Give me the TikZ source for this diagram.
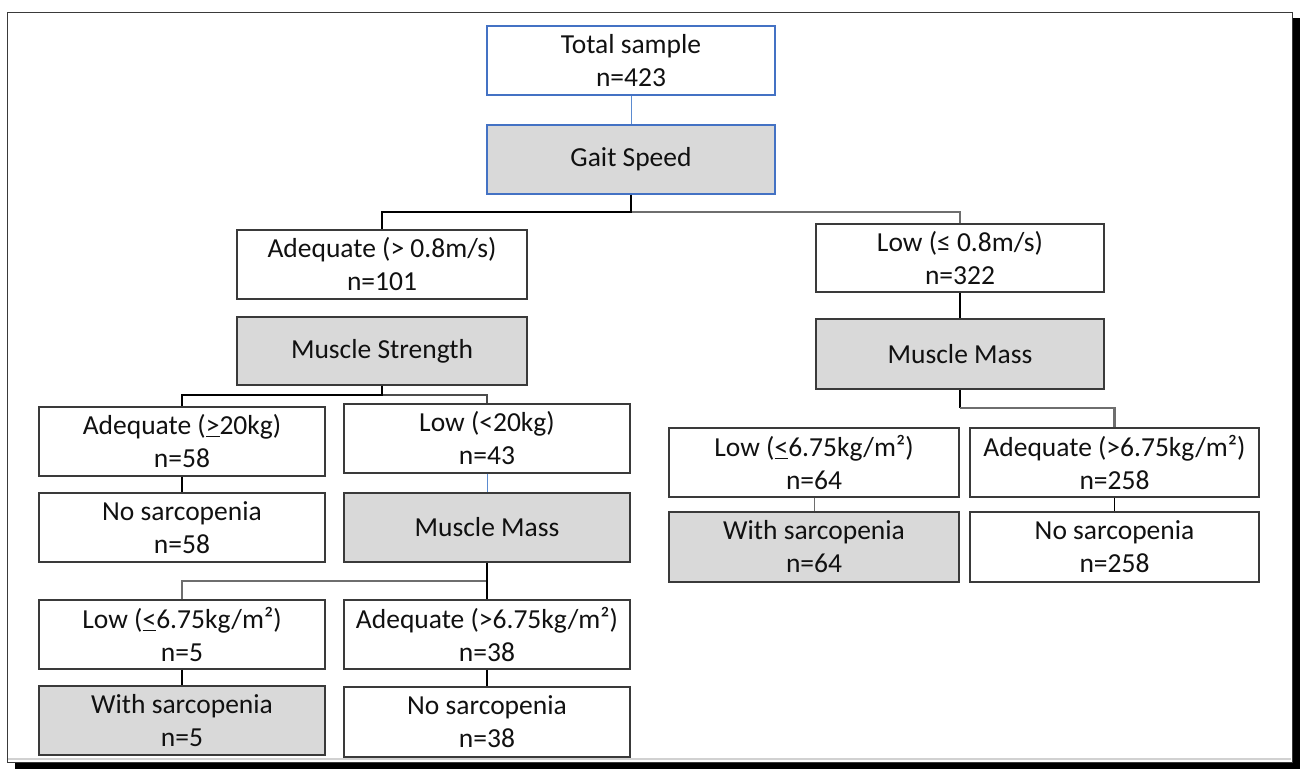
\documentclass[tikz,border=0pt]{standalone}
\usepackage{fontspec}
\setmainfont{Carlito}
\definecolor{boxline}{HTML}{3A3A3A}
\definecolor{boxfill}{HTML}{D9D9D9}
\definecolor{blueline}{HTML}{4472C4}
\definecolor{bluecon}{HTML}{5B8BD0}
\definecolor{graycon}{HTML}{6E6E6E}
\definecolor{txt}{HTML}{111111}
\newcommand{\ule}[1]{\underline{#1}}
\begin{document}
\begin{tikzpicture}[x=1pt,y=-1pt,
  box/.style={draw=boxline, line width=1.4pt, fill=white, minimum width=288pt, minimum height=69pt,
    inner sep=0pt, align=center, text=txt, font=\fontsize{27.5}{33}\selectfont},
  gbox/.style={box, fill=boxfill},
  con/.style={draw=black, line width=1.3pt},
  gcon/.style={draw=graycon, line width=2.6pt},
  bcon/.style={draw=bluecon, line width=1pt}]
\useasboundingbox (0,0) rectangle (1305,769);
% frame with shadow
\fill[black] (15,18) rectangle (1300,769);
\filldraw[fill=white, draw=boxline, line width=1pt] (7,12) rectangle (1292,762);
\draw[black!18, line width=2.5pt] (8,759) -- (1291,759);

% nodes
\node[box, draw=blueline] (tot) at (631,60.5) {Total sample\\n=423};
\node[gbox, draw=blueline] (gait) at (631,159.5) {Gait Speed};
\node[box, minimum width=290pt] (adq1) at (382,264.5) {Adequate (> 0.8m/s)\\n=101};
\node[box, minimum height=68pt] (low1) at (960,258) {Low (≤ 0.8m/s)\\n=322};
\node[gbox, minimum width=290pt, minimum height=68pt] (ms) at (382,351) {Muscle Strength};
\node[gbox, minimum height=70pt] (mm1) at (960,354) {Muscle Mass};

\node[box, minimum width=286pt] (adq2) at (182,441.5) {Adequate (\ule{>}20kg)\\n=58};
\node[box, minimum width=286pt] (low2) at (487,438.5) {Low (<20kg)\\n=43};
\node[box, minimum width=286pt] (nos1) at (182,527.5) {No sarcopenia\\n=58};
\node[gbox, minimum width=286pt] (mm2) at (487,527.5) {Muscle Mass};
\node[box, minimum width=286pt] (low3) at (182,634.5) {Low (\ule{<}6.75kg/m²)\\n=5};
\node[box, minimum width=286pt] (adq3) at (487,634.5) {Adequate (>6.75kg/m²)\\n=38};
\node[gbox, minimum width=286pt] (with1) at (182,720.5) {With sarcopenia\\n=5};
\node[box, minimum width=286pt, minimum height=70pt] (nos2) at (487,722) {No sarcopenia\\n=38};

\node[box, minimum width=290pt] (low4) at (814,462.5) {Low (\ule{<}6.75kg/m²)\\n=64};
\node[box, minimum width=289pt] (adq4) at (1114.5,462.5) {Adequate (>6.75kg/m²)\\n=258};
\node[gbox, minimum width=290pt, minimum height=70pt] (with2) at (814,547) {With sarcopenia\\n=64};
\node[box, minimum width=289pt, minimum height=70pt] (nos3) at (1114.5,547) {No sarcopenia\\n=258};

% connectors
\draw[bcon] (tot.south) -- (gait.north);
\coordinate (g1) at (631,212);
\draw[gcon] (g1) -| (low1.north);
\draw[con] (gait.south) -- (g1) -| (adq1.north);
\draw[con] (low1.south) -- (mm1.north);

\coordinate (s1) at (382,395);
\draw[con, draw=black!70] (s1) -| (low2.north);
\draw[con] (ms.south) -- (s1) -| (adq2.north);
\draw[con] (adq2.south) -- (nos1.north);
\draw[bcon] (low2.south) -- (mm2.north);

\coordinate (m1) at (487,581);
\draw[gcon] (m1) -| (low3.north);
\draw[con] (mm2.south) -- (m1) -- (adq3.north);
\draw[con] (low3.south) -- (with1.north);
\draw[con] (adq3.south) -- (nos2.north);

\coordinate (r1) at (960,408);
\draw[con] (mm1.south) -- (r1);
\draw[gcon] (r1) -| (adq4.north);
\draw[con, draw=graycon, line width=1pt] (low4.south) -- (with2.north);
\draw[con] (adq4.south) -- (nos3.north);
\end{tikzpicture}
\end{document}
